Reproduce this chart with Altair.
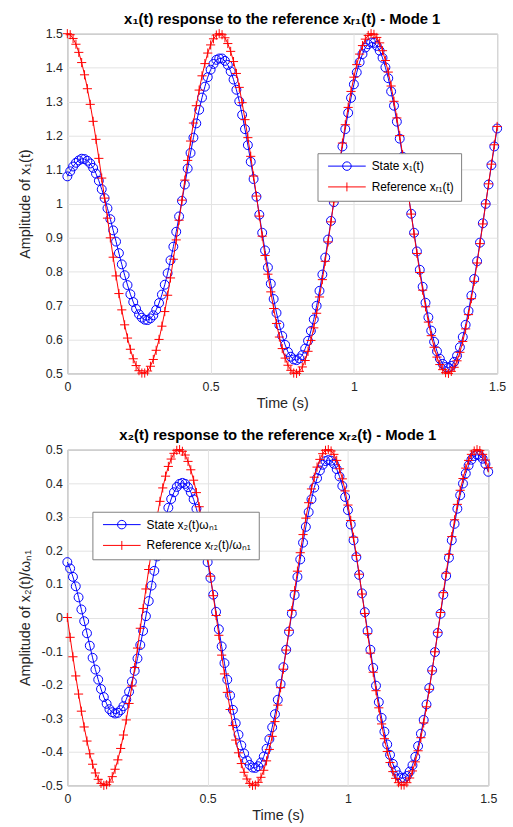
import altair as alt
import pandas as pd

# ---------------- data ----------------
time_s = [
    0.00, 0.01, 0.02, 0.03, 0.04, 0.05, 0.06, 0.07, 0.08, 0.09,
    0.10, 0.11, 0.12, 0.13, 0.14, 0.15, 0.16, 0.17, 0.18, 0.19,
    0.20, 0.21, 0.22, 0.23, 0.24, 0.25, 0.26, 0.27, 0.28, 0.29,
    0.30, 0.31, 0.32, 0.33, 0.34, 0.35, 0.36, 0.37, 0.38, 0.39,
    0.40, 0.41, 0.42, 0.43, 0.44, 0.45, 0.46, 0.47, 0.48, 0.49,
    0.50, 0.51, 0.52, 0.53, 0.54, 0.55, 0.56, 0.57, 0.58, 0.59,
    0.60, 0.61, 0.62, 0.63, 0.64, 0.65, 0.66, 0.67, 0.68, 0.69,
    0.70, 0.71, 0.72, 0.73, 0.74, 0.75, 0.76, 0.77, 0.78, 0.79,
    0.80, 0.81, 0.82, 0.83, 0.84, 0.85, 0.86, 0.87, 0.88, 0.89,
    0.90, 0.91, 0.92, 0.93, 0.94, 0.95, 0.96, 0.97, 0.98, 0.99,
    1.00, 1.01, 1.02, 1.03, 1.04, 1.05, 1.06, 1.07, 1.08, 1.09,
    1.10, 1.11, 1.12, 1.13, 1.14, 1.15, 1.16, 1.17, 1.18, 1.19,
    1.20, 1.21, 1.22, 1.23, 1.24, 1.25, 1.26, 1.27, 1.28, 1.29,
    1.30, 1.31, 1.32, 1.33, 1.34, 1.35, 1.36, 1.37, 1.38, 1.39,
    1.40, 1.41, 1.42, 1.43, 1.44, 1.45, 1.46, 1.47, 1.48, 1.49,
    1.50,
]

state_x1 = [
    1.080, 1.095, 1.109, 1.120, 1.127, 1.132, 1.131, 1.126, 1.118, 1.105,
    1.088, 1.067, 1.042, 1.016, 0.986, 0.954, 0.921, 0.888, 0.854, 0.821,
    0.789, 0.760, 0.733, 0.710, 0.690, 0.674, 0.664, 0.658, 0.657, 0.662,
    0.671, 0.687, 0.707, 0.732, 0.761, 0.795, 0.833, 0.873, 0.917, 0.962,
    1.008, 1.056, 1.103, 1.149, 1.194, 1.236, 1.276, 1.312, 1.344, 1.372,
    1.394, 1.411, 1.423, 1.427, 1.427, 1.420, 1.408, 1.389, 1.365, 1.335,
    1.301, 1.261, 1.219, 1.172, 1.123, 1.072, 1.020, 0.967, 0.914, 0.862,
    0.812, 0.764, 0.719, 0.678, 0.642, 0.610, 0.584, 0.563, 0.549, 0.541,
    0.539, 0.544, 0.554, 0.573, 0.596, 0.625, 0.659, 0.699, 0.743, 0.791,
    0.841, 0.894, 0.949, 1.004, 1.060, 1.115, 1.168, 1.219, 1.267, 1.311,
    1.351, 1.386, 1.416, 1.440, 1.459, 1.469, 1.474, 1.473, 1.464, 1.450,
    1.429, 1.401, 1.369, 1.330, 1.288, 1.241, 1.191, 1.138, 1.083, 1.027,
    0.970, 0.914, 0.859, 0.805, 0.755, 0.708, 0.665, 0.626, 0.593, 0.565,
    0.543, 0.528, 0.519, 0.517, 0.522, 0.534, 0.552, 0.577, 0.607, 0.643,
    0.684, 0.729, 0.778, 0.830, 0.885, 0.942, 0.999, 1.056, 1.113, 1.168,
    1.221,
]

ref_x1 = [
    1.500, 1.497, 1.486, 1.469, 1.445, 1.415, 1.379, 1.338, 1.292, 1.242,
    1.189, 1.133, 1.075, 1.016, 0.957, 0.899, 0.842, 0.787, 0.735, 0.687,
    0.643, 0.604, 0.571, 0.543, 0.523, 0.508, 0.501, 0.501, 0.507, 0.521,
    0.541, 0.568, 0.600, 0.639, 0.682, 0.730, 0.781, 0.836, 0.893, 0.951,
    1.010, 1.069, 1.127, 1.184, 1.237, 1.288, 1.334, 1.376, 1.412, 1.443,
    1.467, 1.485, 1.496, 1.500, 1.497, 1.488, 1.471, 1.448, 1.418, 1.383,
    1.342, 1.297, 1.247, 1.194, 1.139, 1.081, 1.022, 0.963, 0.904, 0.847,
    0.792, 0.740, 0.691, 0.647, 0.607, 0.573, 0.545, 0.524, 0.509, 0.501,
    0.500, 0.506, 0.519, 0.538, 0.565, 0.597, 0.634, 0.677, 0.725, 0.776,
    0.830, 0.887, 0.946, 1.005, 1.064, 1.122, 1.178, 1.232, 1.283, 1.330,
    1.372, 1.409, 1.440, 1.465, 1.484, 1.495, 1.500, 1.498, 1.489, 1.473,
    1.450, 1.421, 1.387, 1.346, 1.301, 1.252, 1.200, 1.144, 1.086, 1.028,
    0.969, 0.910, 0.853, 0.797, 0.745, 0.696, 0.651, 0.611, 0.577, 0.548,
    0.526, 0.511, 0.502, 0.500, 0.506, 0.518, 0.537, 0.562, 0.594, 0.631,
    0.673, 0.720, 0.771, 0.825, 0.882, 0.940, 0.999, 1.058, 1.116, 1.173,
    1.227,
]

state_x2 = [
    0.165, 0.146, 0.121, 0.093, 0.060, 0.024, -0.011, -0.047, -0.084, -0.120,
    -0.155, -0.185, -0.213, -0.237, -0.257, -0.273, -0.282, -0.286, -0.284, -0.276,
    -0.264, -0.244, -0.221, -0.191, -0.159, -0.122, -0.082, -0.040, 0.004, 0.049,
    0.095, 0.139, 0.182, 0.223, 0.262, 0.297, 0.327, 0.353, 0.373, 0.389,
    0.398, 0.401, 0.398, 0.388, 0.373, 0.352, 0.324, 0.292, 0.255, 0.212,
    0.165, 0.118, 0.068, 0.017, -0.035, -0.086, -0.136, -0.185, -0.232, -0.275,
    -0.315, -0.349, -0.381, -0.405, -0.426, -0.439, -0.447, -0.448, -0.443, -0.432,
    -0.414, -0.391, -0.362, -0.327, -0.288, -0.245, -0.198, -0.148, -0.096, -0.042,
    0.012, 0.067, 0.121, 0.173, 0.223, 0.270, 0.314, 0.352, 0.387, 0.415,
    0.438, 0.455, 0.466, 0.469, 0.467, 0.458, 0.442, 0.420, 0.392, 0.359,
    0.320, 0.277, 0.230, 0.180, 0.127, 0.072, 0.016, -0.040, -0.096, -0.150,
    -0.203, -0.252, -0.299, -0.340, -0.378, -0.409, -0.436, -0.456, -0.470, -0.478,
    -0.478, -0.472, -0.459, -0.440, -0.415, -0.383, -0.346, -0.305, -0.259, -0.210,
    -0.157, -0.103, -0.046, 0.011, 0.068, 0.124, 0.178, 0.230, 0.279, 0.324,
    0.364, 0.399, 0.429, 0.453, 0.470, 0.481, 0.485, 0.482, 0.473, 0.457,
    0.434,
]

ref_x2 = [
    0.000, -0.059, -0.117, -0.174, -0.228, -0.279, -0.326, -0.368, -0.406, -0.437,
    -0.463, -0.482, -0.494, -0.500, -0.498, -0.490, -0.474, -0.452, -0.424, -0.390,
    -0.350, -0.305, -0.256, -0.204, -0.149, -0.091, -0.032, 0.027, 0.085, 0.143,
    0.199, 0.251, 0.301, 0.346, 0.386, 0.421, 0.450, 0.472, 0.489, 0.498,
    0.500, 0.495, 0.484, 0.465, 0.440, 0.409, 0.372, 0.330, 0.284, 0.233,
    0.179, 0.123, 0.065, 0.006, -0.053, -0.112, -0.168, -0.223, -0.274, -0.322,
    -0.365, -0.403, -0.435, -0.461, -0.481, -0.494, -0.500, -0.499, -0.491, -0.476,
    -0.455, -0.427, -0.393, -0.354, -0.310, -0.261, -0.209, -0.154, -0.097, -0.038,
    0.021, 0.080, 0.138, 0.193, 0.247, 0.296, 0.342, 0.383, 0.418, 0.448,
    0.471, 0.488, 0.498, 0.500, 0.496, 0.486, 0.468, 0.443, 0.413, 0.377,
    0.335, 0.289, 0.239, 0.185, 0.129, 0.070, 0.012, -0.048, -0.106, -0.163,
    -0.218, -0.269, -0.317, -0.361, -0.399, -0.432, -0.459, -0.479, -0.492, -0.499,
    -0.499, -0.492, -0.478, -0.457, -0.430, -0.397, -0.358, -0.314, -0.266, -0.214,
    -0.159, -0.102, -0.044, 0.015, 0.074, 0.132, 0.188, 0.241, 0.291, 0.337,
    0.379, 0.414, 0.445, 0.468, 0.486, 0.496, 0.500, 0.497, 0.486, 0.469,
    0.446,
]

x_ticks = [0, 0.5, 1, 1.5]
y1_ticks = [0.5, 0.6, 0.7, 0.8, 0.9, 1.0, 1.1, 1.2, 1.3, 1.4, 1.5]
y2_ticks = [-0.5, -0.4, -0.3, -0.2, -0.1, 0.0, 0.1, 0.2, 0.3, 0.4, 0.5]

top_title = "x\u2081(t) response to the reference x\u1d63\u2081(t) - Mode 1"
bottom_title = "x\u2082(t) response to the reference x\u1d63\u2082(t) - Mode 1"
top_ytitle = "Amplitude of x\u2081(t)"
bottom_ytitle = "Amplitude of x\u2082(t)/\u03c9\u2099\u2081"
top_labels = ["State x\u2081(t)", "Reference x\u1d63\u2081(t)"]
bottom_labels = ["State x\u2082(t)\u03c9\u2099\u2081", "Reference x\u1d63\u2082(t)/\u03c9\u2099\u2081"]

# ---------------- styling ----------------
FONT = "Liberation Sans"
BLUE = "#0000ff"
RED = "#ff0000"
PLUS = "M-1,0H1M0,-1V1"
LEG_STATE = "M-3.8,0H3.8M0.86,0A0.86,0.86,0,1,1,-0.86,0A0.86,0.86,0,1,1,0.86,0"
LEG_REF = "M-3.8,0H3.8M0,-0.9V0.9"
LABEL_EXPR = "replace(format(datum.value, '.1~f'), '\u2212', '-')"


def panel(y_state, y_ref, y_dom, y_ticks, y_title, title, labels, leg_x, leg_y, w, h):
    df = pd.DataFrame({
        "t": time_s * 2,
        "v": list(y_state) + list(y_ref),
        "kind": ["state"] * len(time_s) + ["ref"] * len(time_s),
        "label": [labels[0]] * len(time_s) + [labels[1]] * len(time_s),
    })
    x = alt.X("t:Q", scale=alt.Scale(domain=[0, 1.5], nice=False, zero=False),
              axis=alt.Axis(values=x_ticks, title="Time (s)", labelExpr=LABEL_EXPR,
                            labelPadding=7, titlePadding=4, labelFlush=False,
                            labelOverlap=False))
    y = alt.Y("v:Q", scale=alt.Scale(domain=y_dom, nice=False, zero=False),
              axis=alt.Axis(values=y_ticks, title=y_title, labelExpr=LABEL_EXPR,
                            labelPadding=5, minExtent=24, maxExtent=24,
                            titlePadding=11, labelFlush=False, labelOverlap=False))
    base = alt.Chart(df).encode(x=x, y=y)
    st = base.transform_filter("datum.kind == 'state'")
    rf = base.transform_filter("datum.kind == 'ref'")
    st_line = st.mark_line(color=BLUE, strokeWidth=1)
    st_pts = st.mark_point(shape="circle", filled=False, color=BLUE, size=81,
                           strokeWidth=1, opacity=1)
    rf_line = rf.mark_line(color=RED, strokeWidth=1)
    rf_pts = rf.mark_point(shape=PLUS, filled=False, color=RED, size=85,
                           strokeWidth=1, opacity=1)
    leg = alt.Legend(title=None, orient="none", legendX=leg_x, legendY=leg_y,
                     direction="vertical", fillColor="white", strokeColor="#808080",
                     padding=7, symbolSize=100, symbolStrokeWidth=1, symbolOpacity=1,
                     symbolOffset=16.7, labelOffset=19, labelFont=FONT,
                     labelFontSize=12, labelColor="black", rowPadding=7,
                     labelLimit=300)
    leg_layer = base.mark_point(filled=False, opacity=0).encode(
        color=alt.Color("label:N", scale=alt.Scale(domain=labels, range=[BLUE, RED]),
                        legend=leg),
        shape=alt.Shape("label:N", scale=alt.Scale(domain=labels,
                                                   range=[LEG_STATE, LEG_REF]),
                        legend=leg),
    )
    return alt.layer(st_line, st_pts, rf_line, rf_pts, leg_layer).properties(
        width=w, height=h,
        title=alt.TitleParams(text=title, font=FONT, fontSize=15, fontWeight="bold",
                              color="black", anchor="middle", frame="group", offset=0),
    )


top = panel(state_x1, ref_x1, [0.5, 1.5], y1_ticks, top_ytitle, top_title,
            top_labels, 252.6, 120.7, 434, 343)
bottom = panel(state_x2, ref_x2, [-0.5, 0.5], y2_ticks, bottom_ytitle, bottom_title,
               bottom_labels, 25.3, 62.7, 425, 339)

chart = alt.vconcat(top, bottom, spacing=16).resolve_scale(
    color="independent", shape="independent"
).resolve_legend(
    color="independent", shape="independent"
).properties(
    padding={"left": 17, "top": 7, "right": 5, "bottom": 0},
    background="white",
).configure_axis(
    labelFont=FONT, labelFontSize=12.5, labelColor="#262626",
    titleFont=FONT, titleFontSize=14.5, titleFontWeight="normal", titleColor="#262626",
    grid=True, gridColor="#e3e3e3", gridWidth=1, domain=False, ticks=False,
).configure_view(stroke="#808080", strokeWidth=1)

chart.save("out.html", embed_options={"renderer": "svg", "actions": False})
